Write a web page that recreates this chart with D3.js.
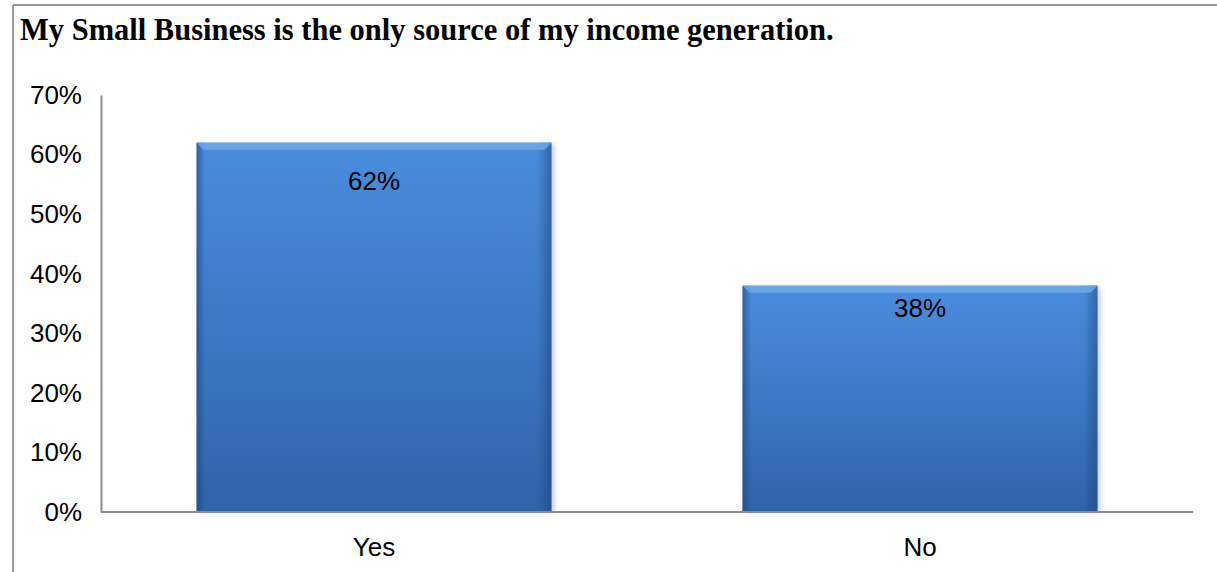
<!DOCTYPE html>
<html>
<head>
<meta charset="utf-8">
<script src="https://cdn.jsdelivr.net/npm/d3@7/dist/d3.min.js"></script>
<style>
  html, body { margin: 0; padding: 0; background: #fff; }
  svg { display: block; }
</style>
</head>
<body>
<svg id="chart" width="1217" height="572"></svg>
<script>
// Survey answers and their shares
const categories = ["Yes", "No"];
const shares = [0.62, 0.38];
const valueLabels = ["62%", "38%"];
const tickValues = [0, 0.1, 0.2, 0.3, 0.4, 0.5, 0.6, 0.7];
const title = "My Small Business is the only source of my income generation.";

const W = 1217, H = 572;
const plot = { left: 101, right: 1193, top: 95, bottom: 512 };
const labelFont = "'Liberation Sans', Arial, sans-serif";
const labelSize = 26;

const svg = d3.select("#chart");
const defs = svg.append("defs");

// Vertical body shading of the bars
const gBody = defs.append("linearGradient").attr("id", "barBody")
  .attr("x1", 0).attr("y1", 0).attr("x2", 0).attr("y2", 1);
gBody.append("stop").attr("offset", "0%").attr("stop-color", "#4a8ddd");
gBody.append("stop").attr("offset", "50%").attr("stop-color", "#3c79c6");
gBody.append("stop").attr("offset", "100%").attr("stop-color", "#3063a8");

// Darkened side edges
const gSide = defs.append("linearGradient").attr("id", "barSide")
  .attr("x1", 0).attr("y1", 0).attr("x2", 1).attr("y2", 0);
gSide.append("stop").attr("offset", "0%").attr("stop-color", "#1c3f70").attr("stop-opacity", 0.55);
gSide.append("stop").attr("offset", "2.5%").attr("stop-color", "#1c3f70").attr("stop-opacity", 0.0);
gSide.append("stop").attr("offset", "96%").attr("stop-color", "#1c3f70").attr("stop-opacity", 0.0);
gSide.append("stop").attr("offset", "100%").attr("stop-color", "#1c3f70").attr("stop-opacity", 0.5);

const blur = defs.append("filter").attr("id", "soft").attr("x", "-10%").attr("y", "-10%")
  .attr("width", "120%").attr("height", "120%");
blur.append("feGaussianBlur").attr("stdDeviation", 2.5);

// Frame around the chart area
svg.append("line").attr("x1", 13).attr("x2", 13).attr("y1", 5).attr("y2", H)
  .attr("stroke", "#9a9a9a").attr("stroke-width", 2);
svg.append("line").attr("x1", 13).attr("x2", W).attr("y1", 5).attr("y2", 5)
  .attr("stroke", "#9a9a9a").attr("stroke-width", 2);

// Title
svg.append("text")
  .attr("x", 20).attr("y", 40)
  .attr("font-family", "'Liberation Serif', 'Times New Roman', serif")
  .attr("font-weight", "bold")
  .attr("font-size", 30.5)
  .attr("fill", "#000")
  .text(title);

const x = d3.scaleBand().domain(categories)
  .range([plot.left, plot.right]).paddingInner(0.35).paddingOuter(0.175);
const y = d3.scaleLinear().domain([0, 0.7]).range([plot.bottom, plot.top]);

// Y axis
const yAxis = svg.append("g").attr("transform", `translate(${plot.left},0)`)
  .call(d3.axisLeft(y).tickValues(tickValues).tickFormat(d3.format(".0%")).tickSize(0).tickPadding(19));
yAxis.select(".domain").attr("stroke", "#8c8c8c").attr("stroke-width", 2);
yAxis.selectAll("text")
  .attr("font-family", labelFont)
  .attr("font-size", labelSize).attr("fill", "#000");

// Bars
const data = categories.map((c, i) => ({ cat: c, v: shares[i], label: valueLabels[i] }));
const bars = svg.append("g");

bars.selectAll(".shadow").data(data).join("rect")
  .attr("x", d => x(d.cat) + 3).attr("y", d => y(d.v) + 2)
  .attr("width", x.bandwidth()).attr("height", d => y(0) - y(d.v) - 2)
  .attr("fill", "#7f8fa8").attr("opacity", 0.45).attr("filter", "url(#soft)");

bars.selectAll(".body").data(data).join("rect")
  .attr("x", d => x(d.cat)).attr("y", d => y(d.v))
  .attr("width", x.bandwidth()).attr("height", d => y(0) - y(d.v))
  .attr("fill", "url(#barBody)");

bars.selectAll(".side").data(data).join("rect")
  .attr("x", d => x(d.cat)).attr("y", d => y(d.v))
  .attr("width", x.bandwidth()).attr("height", d => y(0) - y(d.v))
  .attr("fill", "url(#barSide)");

// Top bevel
bars.selectAll(".bevel").data(data).join("path")
  .attr("d", d => {
    const x0 = x(d.cat), x1 = x0 + x.bandwidth(), t = y(d.v), b = 7;
    return `M${x0},${t}L${x1},${t}L${x1 - b},${t + b}L${x0 + b},${t + b}Z`;
  })
  .attr("fill", "#6fa8ea").attr("opacity", 0.85);

// X axis baseline
svg.append("line")
  .attr("x1", plot.left).attr("x2", plot.right)
  .attr("y1", y(0)).attr("y2", y(0))
  .attr("stroke", "#8c8c8c").attr("stroke-width", 2);

// Category labels
svg.append("g").selectAll("text").data(categories).join("text")
  .attr("x", d => x(d) + x.bandwidth() / 2)
  .attr("y", 556)
  .attr("text-anchor", "middle")
  .attr("font-family", labelFont)
  .attr("font-size", labelSize).attr("fill", "#000")
  .text(d => d);

// Value labels inside the bars
const labelDrop = { Yes: 47, No: 31 };
svg.append("g").selectAll("text").data(data).join("text")
  .attr("x", d => x(d.cat) + x.bandwidth() / 2)
  .attr("y", d => y(d.v) + labelDrop[d.cat])
  .attr("text-anchor", "middle")
  .attr("font-family", labelFont)
  .attr("font-size", labelSize).attr("fill", "#000")
  .text(d => d.label);
</script>
</body>
</html>
